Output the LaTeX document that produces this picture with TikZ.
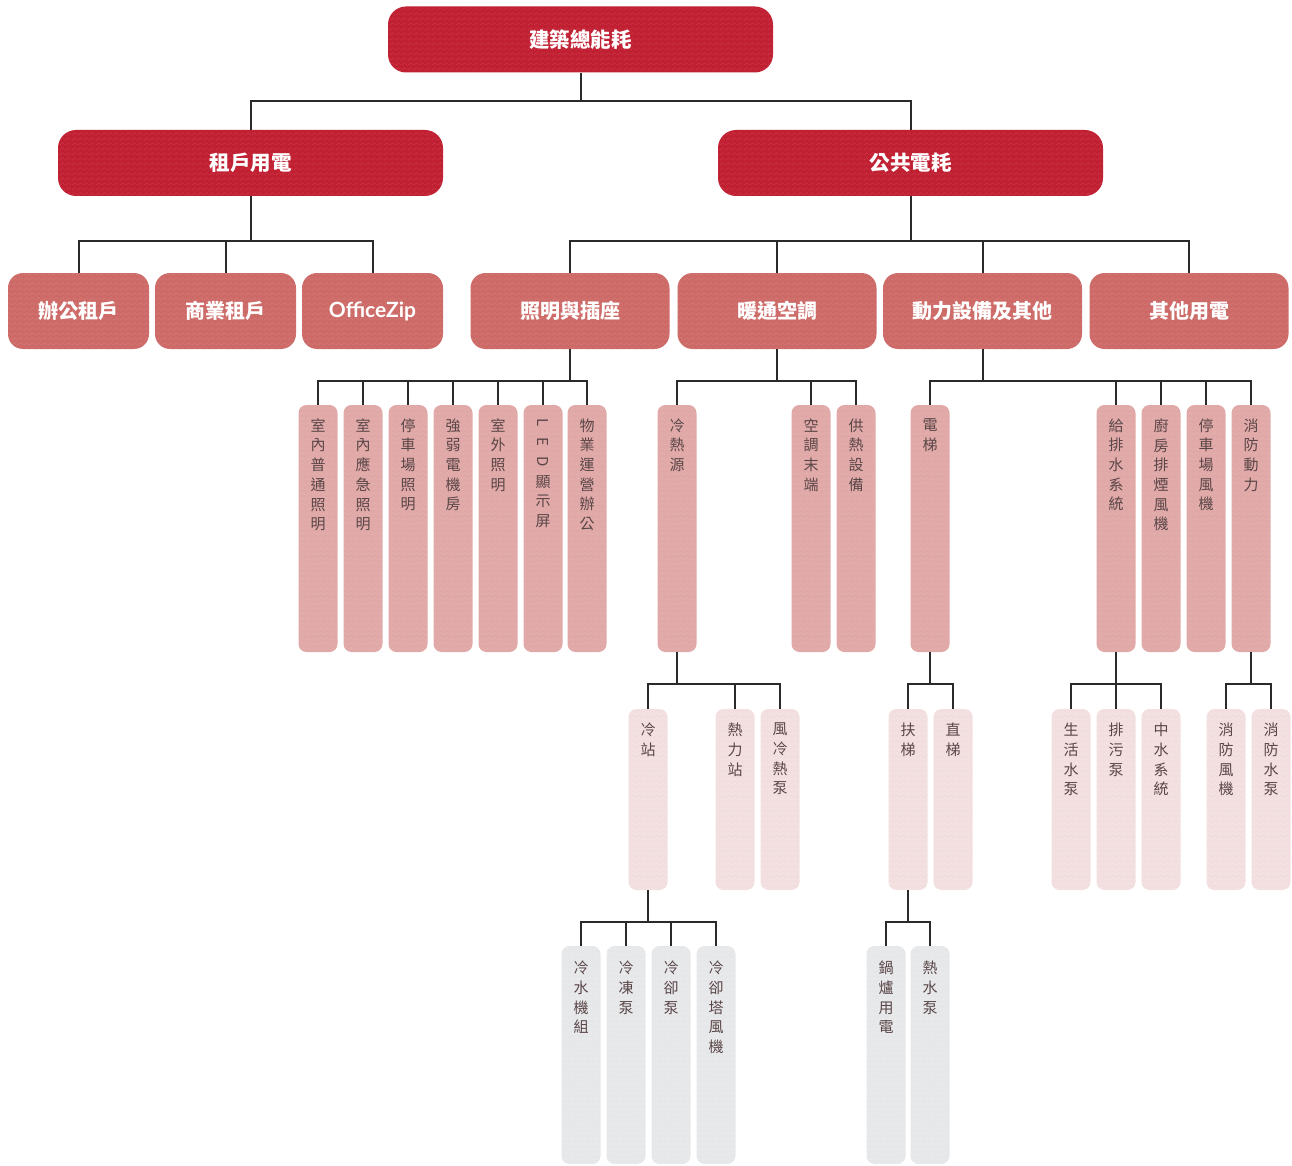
\documentclass[tikz,border=0pt]{standalone}
\usepackage{fontspec}
\setmainfont{Noto Sans CJK TC}
\newfontfamily\latofont{Lato}
\usetikzlibrary{calc,patterns.meta}
\definecolor{cA}{HTML}{C11F32}
\definecolor{cB}{HTML}{CD6A67}
\definecolor{cC}{HTML}{E0A8A6}
\definecolor{cD}{HTML}{F2DEDF}
\definecolor{cE}{HTML}{E6E7E9}
\definecolor{lineclr}{HTML}{2A2A2A}
\definecolor{vtclr}{HTML}{5A4648}
\pgfdeclarepattern{
  name=herring, type=uncolored,
  bottom left={\pgfpoint{0pt}{0pt}}, top right={\pgfpoint{6pt}{5pt}},
  tile size={\pgfpoint{6pt}{5pt}},
  code={
    \pgfsetlinewidth{0.7pt}
    \pgfpathmoveto{\pgfpoint{0pt}{1pt}}
    \pgfpathlineto{\pgfpoint{3pt}{4pt}}
    \pgfpathlineto{\pgfpoint{6pt}{1pt}}
    \pgfusepath{stroke}
  }}
\tikzset{
  texture/.style={postaction={pattern=herring, pattern color=white, opacity=#1}},
  hdr/.style={fill=cA, texture=0.10, rounded corners=18pt, minimum width=385pt, minimum height=66pt, text=white, font=\bfseries\fontsize{20.5}{24}\selectfont, inner sep=0pt},
  lvthree/.style={fill=cB, texture=0.10, rounded corners=15pt, minimum height=76pt, text=white, font=\bfseries\fontsize{20}{24}\selectfont, inner sep=0pt},
  colbox/.style={rounded corners=8pt, minimum width=39pt, inner sep=0pt},
  lvfour/.style={colbox, fill=cC, texture=0.12, minimum height=247pt},
  lvfive/.style={colbox, fill=cD, texture=0.25, minimum height=181pt},
  lvsix/.style={colbox, fill=cE, texture=0.25, minimum height=218pt},
  vlabel/.style={anchor=north, align=center, font=\fontsize{15}{19.7}\selectfont, text=vtclr, inner sep=0pt},
  conn/.style={draw=lineclr, line width=2pt},
}
\newcommand{\rl}[1]{\rotatebox[origin=c]{-90}{#1}}
\begin{document}
\begin{tikzpicture}[x=1pt,y=-1pt]
\useasboundingbox (0,0) rectangle (1292,1166);
% level 1-2
\node[hdr] (top) at (580.5,39.5) {建築總能耗};
\node[hdr] (ten) at (250.5,163) {租戶用電};
\node[hdr] (pub) at (910.5,163) {公共電耗};
% level 3
\node[lvthree, minimum width=141pt] (off) at (78.5,311) {辦公租戶};
\node[lvthree, minimum width=141pt] (com) at (225.5,311) {商業租戶};
\node[lvthree, minimum width=141pt, font=\latofont\bfseries\fontsize{21}{24}\selectfont] (ozp) at (372.5,311) {OfficeZip};
\node[lvthree, minimum width=199pt] (lgt) at (570,311) {照明與插座};
\node[lvthree, minimum width=199pt] (hvac) at (777,311) {暖通空調};
\node[lvthree, minimum width=199pt] (pwr) at (982.5,311) {動力設備及其他};
\node[lvthree, minimum width=199pt] (oth) at (1189,311) {其他用電};
% level 4
\foreach \n/\x/\t in {
  la/318/{室\\內\\普\\通\\照\\明},
  lb/363/{室\\內\\應\\急\\照\\明},
  lc/408/{停\\車\\場\\照\\明},
  ld/453/{強\\弱\\電\\機\\房},
  le/498/{室\\外\\照\\明},
  lf/543/{\rl{L}\\\rl{E}\\\rl{D}\\顯\\示\\屏},
  lg/587/{物\\業\\運\\營\\辦\\公},
  ha/677/{冷\\熱\\源},
  hb/811/{空\\調\\末\\端},
  hc/856/{供\\熱\\設\\備},
  pa/930/{電\\梯},
  pb/1116/{給\\排\\水\\系\\統},
  pc/1161/{廚\\房\\排\\煙\\風\\機},
  pd/1206/{停\\車\\場\\風\\機},
  pe/1251/{消\\防\\動\\力}}{
  \node[lvfour] (\n) at (\x,528.5) {};
  \node[vlabel] at ([yshift=-13.5pt]\n.north) {\t};
}
% level 5
\foreach \n/\x/\t in {
  hsa/648/{冷\\站},
  hsb/735/{熱\\力\\站},
  hsc/780/{風\\冷\\熱\\泵},
  psa/908/{扶\\梯},
  psb/953/{直\\梯},
  wsa/1071/{生\\活\\水\\泵},
  wsb/1116/{排\\污\\泵},
  wsc/1161/{中\\水\\系\\統},
  fsa/1226/{消\\防\\風\\機},
  fsb/1271/{消\\防\\水\\泵}}{
  \node[lvfive] (\n) at (\x,799.5) {};
  \node[vlabel] at ([yshift=-14pt]\n.north) {\t};
}
% level 6
\foreach \n/\x/\t in {
  cwa/581/{冷\\水\\機\\組},
  cwb/626/{冷\\凍\\泵},
  cwc/671/{冷\\卻\\泵},
  cwd/716/{冷\\卻\\塔\\風\\機},
  ela/886/{鍋\\爐\\用\\電},
  elb/930/{熱\\水\\泵}}{
  \node[lvsix] (\n) at (\x,1055) {};
  \node[vlabel] at ([yshift=-15pt]\n.north) {\t};
}
% connectors
\foreach \c in {ten,pub} \draw[conn] (top.south) -- ++(0,28) -| (\c.north);
\foreach \c in {off,com,ozp} \draw[conn] (ten.south) -- ++(0,45) -| (\c.north);
\foreach \c in {lgt,hvac,pwr,oth} \draw[conn] (pub.south) -- ++(0,45) -| (\c.north);
\foreach \c in {la,lb,lc,ld,le,lf,lg} \draw[conn] (lgt.south) -- ++(0,32) -| (\c.north);
\foreach \c in {ha,hb,hc} \draw[conn] (hvac.south) -- ++(0,32) -| (\c.north);
\foreach \c in {pa,pb,pc,pd,pe} \draw[conn] (pwr.south) -- ++(0,32) -| (\c.north);
\foreach \c in {hsa,hsb,hsc} \draw[conn] (ha.south) -- ++(0,32) -| (\c.north);
\foreach \c in {psa,psb} \draw[conn] (pa.south) -- ++(0,32) -| (\c.north);
\foreach \c in {wsa,wsb,wsc} \draw[conn] (pb.south) -- ++(0,32) -| (\c.north);
\foreach \c in {fsa,fsb} \draw[conn] (pe.south) -- ++(0,32) -| (\c.north);
\foreach \c in {cwa,cwb,cwc,cwd} \draw[conn] (hsa.south) -- ++(0,32) -| (\c.north);
\foreach \c in {ela,elb} \draw[conn] (psa.south) -- ++(0,32) -| (\c.north);
\end{tikzpicture}
\end{document}
